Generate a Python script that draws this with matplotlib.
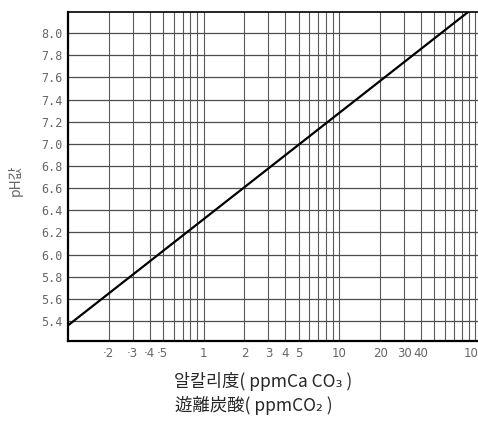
import matplotlib
matplotlib.use('Agg')
import matplotlib.pyplot as plt

# line (pH at a few concentrations)
conc = [0.1, 1, 10, 100]
ph = [5.36, 6.32, 7.28, 8.24]

ytick_vals = [5.4, 5.6, 5.8, 6.0, 6.2, 6.4, 6.6, 6.8, 7.0, 7.2, 7.4, 7.6, 7.8, 8.0]
xtick_vals = [0.2, 0.3, 0.4, 0.5, 1, 2, 3, 4, 5, 10, 20, 30, 40, 100]
xtick_labels = ['·2', '·3', '·4', '·5', '1', '2', '3', '4', '5', '10', '20', '30', '40', '100']
grid_x = [0.2, 0.3, 0.4, 0.5, 0.6, 0.7, 0.8, 0.9, 1, 2, 3, 4, 5, 6, 7, 8, 9,
          10, 20, 30, 40, 50, 60, 70, 80, 90, 100]

plt.rcParams['font.family'] = ['Noto Sans CJK KR', 'DejaVu Sans']

fig = plt.figure(figsize=(4.78, 4.30), dpi=100)
ax = fig.add_axes([0.142, 0.207, 0.858, 0.765])

for g in grid_x:
    ax.axvline(g, color='0.35', lw=0.8, zorder=1)
for g in ytick_vals:
    ax.axhline(g, color='0.3', lw=0.9, zorder=1)

ax.plot(conc, ph, color='black', lw=1.6, zorder=3)

ax.set_xscale('log')
ax.set_xlim(0.1, 105)
ax.set_ylim(5.22, 8.19)

ax.set_yticks(ytick_vals)
ax.set_yticklabels(['%.1f' % v for v in ytick_vals], family='DejaVu Sans Mono',
                   fontsize=8.5, color='0.4')
ax.set_xticks(xtick_vals)
ax.set_xticklabels(xtick_labels, fontsize=8.5, color='0.4', family='DejaVu Sans')
ax.xaxis.set_minor_locator(matplotlib.ticker.NullLocator())
ax.tick_params(length=0, pad=4)

ax.spines['left'].set_linewidth(1.6)
ax.spines['bottom'].set_linewidth(1.6)
ax.spines['top'].set_linewidth(1.2)
ax.spines['right'].set_visible(False)

fig.text(0.032, 0.58, 'pH값', rotation=90, ha='center', va='center',
         fontsize=10, color='0.4')
fig.text(0.55, 0.112, '알칼리度( ppmCa CO₃ )', ha='center', va='center',
         fontsize=12.5, color='0.15')
fig.text(0.53, 0.058, '遊離炭酸( ppmCO₂ )', ha='center', va='center',
         fontsize=12.5, color='0.15')

fig.savefig('out.png', dpi=100)
